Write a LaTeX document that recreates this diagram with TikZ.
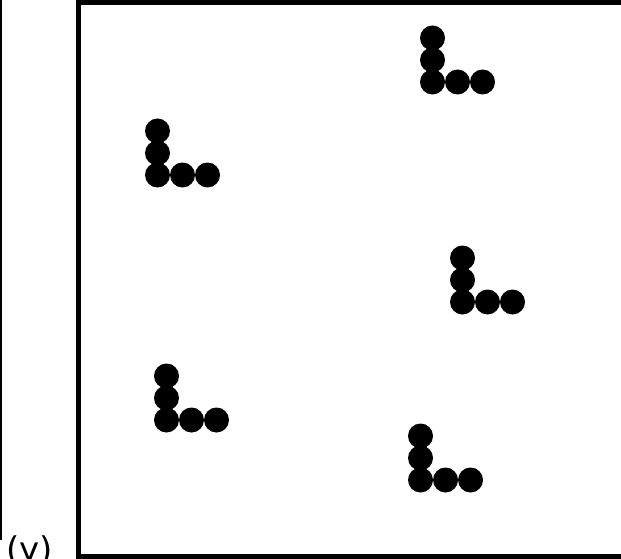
\documentclass[tikz,border=0pt]{standalone}
\usepackage{fontspec}
\setmainfont{DejaVu Sans}
\usetikzlibrary{positioning}

\begin{document}
\begin{tikzpicture}[x=1pt, y=-1pt, every node/.style={font=\fontsize{34}{34}\selectfont},
    dot/.style={fill=black}]

        \useasboundingbox (0,0) rectangle (621,559);
        \clip (0,0) rectangle (621,559);

        % Left: thin frame line and label
        \coordinate (L1) at (0.75,0);
        \coordinate (L2) at (0.75,540);
        \draw[line width=1.5pt] (L1) -- (L2);

        \node[anchor=base west, inner sep=0pt] (lbl) at (6,561) {(y)};

        % Field: thick box, open on the right
        \draw[line width=5pt] (640,2.5) -- (78.5,2.5) -- (78.5,556) -- (640,556);

        % Anchors of the L-pieces (lower left dot)
        \coordinate (P1) at (157.5,175);
        \coordinate (P2) at (432.5,82);
        \coordinate (P3) at (462.5,302);
        \coordinate (P4) at (166.5,420);
        \coordinate (P5) at (420.5,480);

        % Each piece: three dots up, three dots across
        \foreach \p in {P1,P2,P3,P4,P5} {
            \foreach \dy in {0,22,44} {
                \fill[dot] ([yshift=\dy pt]\p) circle (12.5);
            }
            \foreach \dx in {25,50} {
                \fill[dot] ([xshift=\dx pt]\p) circle (12.5);
            }
        }

    \end{tikzpicture}
\end{document}
